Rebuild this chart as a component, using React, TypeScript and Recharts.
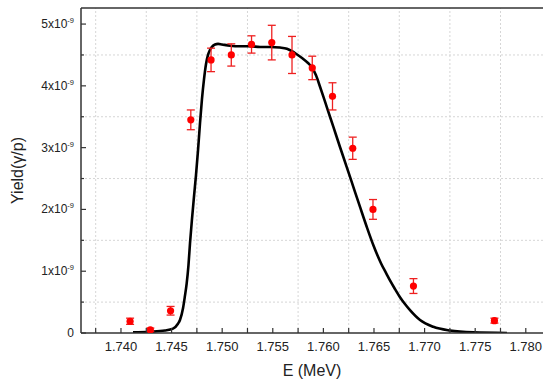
import { ComposedChart, ErrorBar, Line, ReferenceLine, Scatter, XAxis, YAxis } from "recharts";

// measured points (yield in units of 1e-9 γ/p)
const pointE = [1.7409, 1.7429, 1.7449, 1.7469, 1.7489, 1.7509, 1.7529, 1.7549, 1.7569, 1.7589, 1.7609, 1.7629, 1.7649, 1.7689, 1.7769];
const pointY = [0.19, 0.05, 0.36, 3.45, 4.42, 4.5, 4.67, 4.7, 4.5, 4.29, 3.83, 2.99, 2.0, 0.76, 0.2];
const pointErr = [0.05, 0.03, 0.07, 0.16, 0.19, 0.18, 0.14, 0.28, 0.3, 0.19, 0.22, 0.18, 0.16, 0.12, 0.04];

// simulated yield curve
const curveE = [
  1.74119, 1.74287, 1.74435, 1.74514, 1.74563, 1.74583, 1.74613, 1.74632, 1.74649, 1.74667, 1.74682, 1.74702,
  1.74721, 1.74741, 1.74761, 1.74781, 1.748, 1.7482, 1.7484, 1.7486, 1.74879, 1.74899, 1.74929, 1.74959, 1.74998,
  1.75077, 1.75176, 1.75275, 1.75374, 1.75472, 1.75571, 1.7564, 1.7569, 1.75729, 1.75789, 1.75848, 1.75887,
  1.75927, 1.75966, 1.75999, 1.76033, 1.76098, 1.76164, 1.7623, 1.76295, 1.76362, 1.76428, 1.76494,
  1.76569, 1.76626, 1.76658, 1.76708, 1.76757, 1.76806, 1.76856, 1.76955, 1.77086, 1.77251, 1.77481, 1.77814,
];
const curveY = [
  0.01, 0.02, 0.04, 0.07, 0.15, 0.21, 0.4, 0.6, 0.8, 1.1, 1.45, 1.85,
  2.2, 2.55, 2.95, 3.4, 3.78, 4.1, 4.35, 4.5, 4.58, 4.63, 4.67, 4.68, 4.67,
  4.65, 4.64, 4.64, 4.63, 4.63, 4.62, 4.6, 4.56, 4.52, 4.45, 4.37, 4.3,
  4.17, 3.99, 3.83, 3.66, 3.34, 3.01, 2.69, 2.37, 2.04, 1.72, 1.42,
  1.13, 0.95, 0.85, 0.71, 0.58, 0.47, 0.37, 0.21, 0.1, 0.04, 0.01, 0,
];

const xTicks = [1.7375, 1.74, 1.7425, 1.745, 1.7475, 1.75, 1.7525, 1.755, 1.7575, 1.76, 1.7625, 1.765, 1.7675, 1.77, 1.7725, 1.775, 1.7775, 1.78];
const yTicks = [0, 0.5, 1, 1.5, 2, 2.5, 3, 3.5, 4, 4.5, 5];
const xGrid = [1.7375, 1.7425, 1.7475, 1.7525, 1.7575, 1.7625, 1.7675, 1.7725, 1.7775];
const yGrid = [0.5, 1.5, 2.5, 3.5, 4.5];

const points = pointE.map((e, i) => ({ e, y: pointY[i], err: pointErr[i] }));
const curve = curveE.map((e, i) => ({ e, y: curveY[i] }));

const FONT = "'Liberation Sans', Arial, sans-serif";
const AXIS = "#333";

const isMajorX = (v: number) => Math.abs(v * 200 - Math.round(v * 200)) < 1e-6;

function XTick({ x, y, payload }: any) {
  const major = isMajorX(payload.value);
  return (
    <g>
      <line x1={x} x2={x} y1={y} y2={y - 5} stroke={AXIS} strokeWidth={1.2} />
      {major && (
        <text x={x} y={y + 18} textAnchor="middle" fontSize={13} fontFamily={FONT} fill="#222">
          {payload.value.toFixed(3)}
        </text>
      )}
    </g>
  );
}

function YTick({ x, y, payload }: any) {
  const v = payload.value;
  const major = Number.isInteger(v);
  return (
    <g>
      <line x1={x} x2={x + (major ? 5 : 3)} y1={y} y2={y} stroke={AXIS} strokeWidth={1.2} />
      {major && (
        <text x={x - 7} y={y + 4} textAnchor="end" fontSize={12} fontFamily={FONT} fill="#222">
          {v === 0 ? "0" : `${v}x10`}
          {v !== 0 && (
            <tspan dy={-5} fontSize={7.5}>
              -9
            </tspan>
          )}
        </text>
      )}
    </g>
  );
}

const Dot = ({ cx, cy }: any) => <circle cx={cx} cy={cy} r={3.6} fill="#ff0000" />;

export default function App() {
  return (
    <div style={{ width: 543, height: 381, background: "#fff" }}>
      <style>{"body{margin:0;overflow:hidden}"}</style>
      <ComposedChart width={543} height={381} margin={{ top: 8, right: 0, bottom: 0, left: 0 }}>
        {xGrid.map((v) => (
          <ReferenceLine key={`gx${v}`} x={v} stroke="#d6d6d6" strokeDasharray="2 2" />
        ))}
        {yGrid.map((v) => (
          <ReferenceLine key={`gy${v}`} y={v} stroke="#d6d6d6" strokeDasharray="2 2" />
        ))}
        <ReferenceLine y={5.26} stroke={AXIS} strokeWidth={1.5} />
        <XAxis
          dataKey="e"
          type="number"
          domain={[1.73605, 1.7817]}
          allowDataOverflow
          ticks={xTicks}
          interval={0}
          tick={<XTick />}
          tickLine={false}
          tickSize={0}
          tickMargin={0}
          height={48}
          axisLine={{ stroke: AXIS, strokeWidth: 1.5 }}
          label={{ value: "E (MeV)", position: "insideBottom", offset: 5, fontSize: 16, fill: "#222", fontFamily: FONT }}
        />
        <YAxis
          type="number"
          domain={[0, 5.26]}
          allowDataOverflow
          ticks={yTicks}
          interval={0}
          tick={<YTick />}
          tickLine={false}
          tickSize={0}
          tickMargin={0}
          width={81}
          axisLine={{ stroke: AXIS, strokeWidth: 1.5 }}
          label={{
            value: "Yield(γ/p)",
            angle: -90,
            position: "insideLeft",
            offset: 17,
            fontSize: 16,
            fill: "#222",
            fontFamily: FONT,
            style: { textAnchor: "middle" },
          }}
        />
        <Line
          data={curve}
          dataKey="y"
          type="monotone"
          stroke="#000"
          strokeWidth={2.6}
          dot={false}
          activeDot={false}
          isAnimationActive={false}
        />
        <Scatter data={points} dataKey="y" shape={<Dot />} isAnimationActive={false}>
          <ErrorBar dataKey="err" direction="y" width={4} stroke="#ee2020" strokeWidth={1.3} />
        </Scatter>
      </ComposedChart>
    </div>
  );
}
